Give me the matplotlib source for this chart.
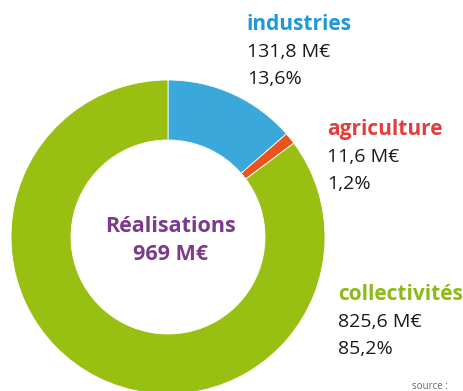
import matplotlib.pyplot as plt

# dépenses par secteur (M€)
secteurs = ["industries", "agriculture", "collectivités"]
montants = [131.8, 11.6, 825.6]
parts = ["13,6%", "1,2%", "85,2%"]
montants_txt = ["131,8 M€", "11,6 M€", "825,6 M€"]
total_txt = "969 M€"

couleurs = ["#3aa8da", "#e8531f", "#98bf12"]
couleurs_txt = ["#1d9ad6", "#e63c3c", "#8dba16"]

W, H = 464, 391
fig = plt.figure(figsize=(W / 100, H / 100), dpi=100)
ax = fig.add_axes([0, 0, 1, 1])

cx, cy = 168, H - 237
r_out, r_in = 157, 97
ax.pie(montants, colors=couleurs, startangle=90, counterclock=False,
       center=(cx, cy), radius=r_out, frame=True,
       wedgeprops=dict(width=r_out - r_in, edgecolor="white", linewidth=0.6))
ax.set_xlim(0, W)
ax.set_ylim(0, H)
ax.set_aspect("equal")
ax.axis("off")

font = "Open Sans"
# étiquettes : (x, baseline du titre) en pixels depuis le haut
positions = [(247, 30), (327, 135), (338, 300)]
for i, (x, y) in enumerate(positions):
    ax.text(x, H - y, secteurs[i], color=couleurs_txt[i], fontsize=15,
            fontweight="bold", family=font, va="baseline", ha="left")
    ax.text(x, H - y - 27, montants_txt[i], color="#1a1a1a", fontsize=14,
            family=font, va="baseline", ha="left")
    ax.text(x, H - y - 54, parts[i], color="#1a1a1a", fontsize=14,
            family=font, va="baseline", ha="left")

ax.text(cx + 3, H - 232, "Réalisations", color="#7b3a8c", fontsize=15.5,
        fontweight="bold", family=font, va="baseline", ha="center")
ax.text(cx + 3, H - 260, total_txt, color="#7b3a8c", fontsize=15.5,
        fontweight="bold", family=font, va="baseline", ha="center")

ax.text(412, H - 389, "source :", color="#666666", fontsize=7,
        family=font, va="baseline", ha="left")

fig.savefig("out.png", dpi=100)
